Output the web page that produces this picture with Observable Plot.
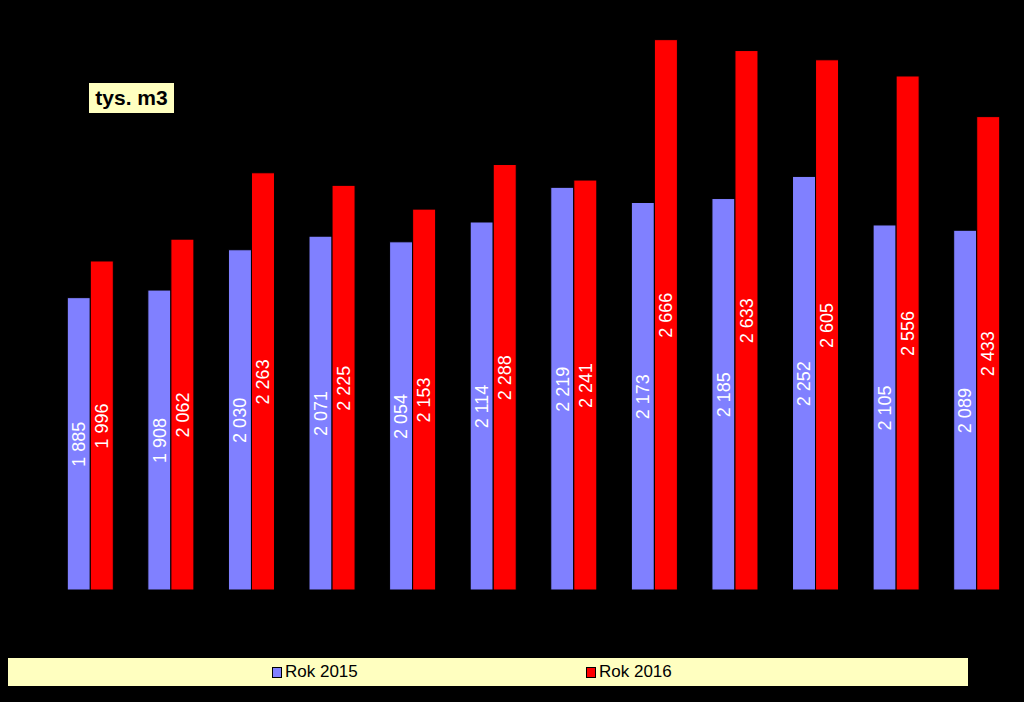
<!DOCTYPE html>
<html>
<head>
<meta charset="utf-8">
<script src="https://cdn.jsdelivr.net/npm/d3@7"></script>
<script src="https://cdn.jsdelivr.net/npm/@observablehq/plot@0.6"></script>
<style>
  html, body { margin: 0; padding: 0; background: #000; }
  #wrap { position: relative; width: 1024px; height: 702px; background: #000; overflow: hidden; font-family: Arial, "Liberation Sans", sans-serif; }
  #unit { position: absolute; left: 89px; top: 83px; width: 85px; height: 30px; background: #FFFFC0; color: #000; font-weight: bold; font-size: 21px; line-height: 30px; text-align: center; }
  #legend { position: absolute; left: 8px; top: 658px; width: 960px; height: 28px; background: #FFFFC0; }
  .item { position: absolute; top: 0; height: 28px; line-height: 28px; font-size: 17px; color: #000; white-space: nowrap; }
  .sw { display: inline-block; width: 8px; height: 9px; border: 1px solid #000; margin-right: 3px; vertical-align: -1px; }
</style>
</head>
<body>
<div id="wrap">
  <div id="chart"></div>
  <div id="unit">tys. m3</div>
  <div id="legend"></div>
</div>
<script>
const months = ["I","II","III","IV","V","VI","VII","VIII","IX","X","XI","XII"];
const years = ["Rok 2015", "Rok 2016"];
const values2015 = [1885, 1908, 2030, 2071, 2054, 2114, 2219, 2173, 2185, 2252, 2105, 2089];
const values2016 = [1996, 2062, 2263, 2225, 2153, 2288, 2241, 2666, 2633, 2605, 2556, 2433];
const colors = ["#8080FF", "#FF0000"];
const yDomain = [1000, 2786];

const data = [];
months.forEach((m, i) => {
  data.push({month: m, year: years[0], value: values2015[i]});
  data.push({month: m, year: years[1], value: values2016[i]});
});

const loc = d3.formatLocale({decimal: ",", thousands: " ", grouping: [3], currency: ["", " zł"]});
const fmt = loc.format(",d");

const chart = Plot.plot({
  width: 1024,
  height: 640,
  marginLeft: 50,
  marginRight: 7,
  marginTop: 0,
  marginBottom: 50,
  style: {background: "black", fontFamily: "Arial, 'Liberation Sans', sans-serif"},
  fx: {domain: months, padding: 0, round: false, axis: null},
  x: {domain: years, paddingInner: 0, paddingOuter: 0.75, round: false, axis: null},
  y: {domain: yDomain, axis: null},
  color: {domain: years, range: colors},
  marks: [
    Plot.rectY(data, {fx: "month", x: "year", y1: () => yDomain[0], y2: "value", fill: "year", stroke: "black", strokeWidth: 1}),
    Plot.text(data, {fx: "month", x: "year", y: d => (yDomain[0] + d.value) / 2, text: d => fmt(d.value), rotate: -90, fill: "white", fontSize: 18})
  ]
});
document.getElementById("chart").appendChild(chart);

const legend = document.getElementById("legend");
const lefts = [264, 578];
years.forEach((y, i) => {
  const it = document.createElement("div");
  it.className = "item";
  it.style.left = lefts[i] + "px";
  const sw = document.createElement("span");
  sw.className = "sw";
  sw.style.background = colors[i];
  it.appendChild(sw);
  it.appendChild(document.createTextNode(y));
  legend.appendChild(it);
});
</script>
</body>
</html>
